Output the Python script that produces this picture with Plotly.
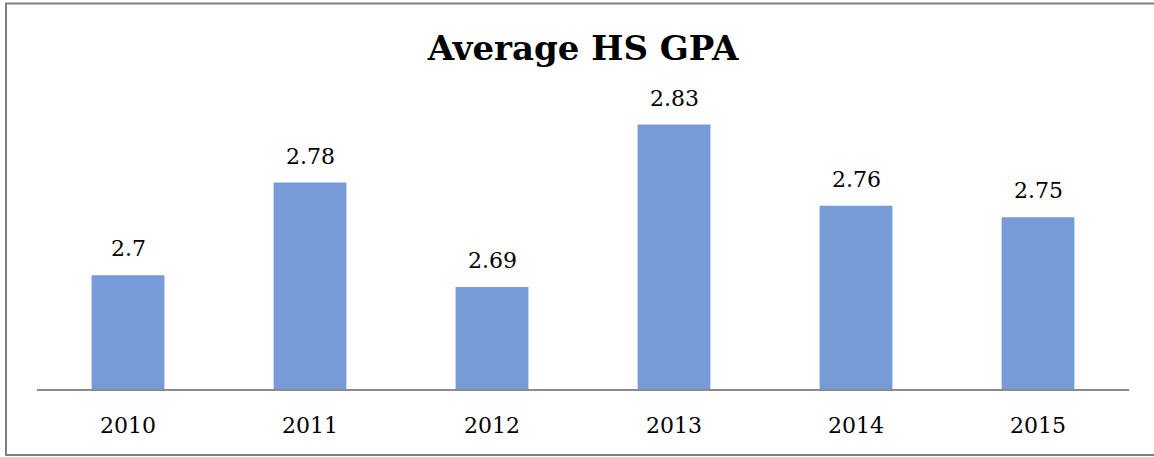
import plotly.graph_objects as go

years = ["2010", "2011", "2012", "2013", "2014", "2015"]
gpa = [2.7, 2.78, 2.69, 2.83, 2.76, 2.75]
title_text = "Average HS GPA"

W, H = 1154, 457
L, R, T, B = 37, 25, 41, 68
pw, ph = W - L - R, H - T - B

def px_x(px):
    return (px - L) / pw

def px_y(py):
    return (H - B - py) / ph

font_family = "DejaVu Serif, Liberation Serif, serif"

fig = go.Figure()
fig.add_trace(go.Bar(
    x=years, y=gpa,
    marker=dict(color="#779AD9", line=dict(width=0)),
    hoverinfo="x+y",
))

for i, v in enumerate(gpa):
    fig.add_annotation(
        x=i, y=v, text=f"{v:g}", showarrow=False,
        yanchor="bottom", yshift=12,
        font=dict(family=font_family, size=22, color="#000"),
    )

fig.add_shape(
    type="rect", xref="paper", yref="paper",
    x0=px_x(6), x1=px_x(1170), y0=px_y(455), y1=px_y(3.5),
    line=dict(color="#808080", width=2), fillcolor="rgba(0,0,0,0)", layer="above",
)

fig.update_layout(
    width=W, height=H,
    margin=dict(l=L, r=R, t=T, b=B, pad=0),
    paper_bgcolor="white", plot_bgcolor="white",
    bargap=0.6,
    showlegend=False,
    title=dict(
        text=f"<b>{title_text}</b>",
        x=0.5, xref="paper", xanchor="center",
        y=1 - 48 / H, yref="container", yanchor="middle",
        font=dict(family=font_family, size=34, color="#000"),
    ),
    xaxis=dict(
        type="category", range=[-0.5, len(years) - 0.5], autorange=False,
        showline=True, linecolor="#8c8c8c", linewidth=2,
        ticks="", showgrid=False, zeroline=False,
        tickfont=dict(family=font_family, size=22, color="#000"),
        ticklabelstandoff=16,
    ),
    yaxis=dict(
        range=[2.602, 2.902], autorange=False, visible=False, showgrid=False, zeroline=False,
    ),
)

fig.write_html("out.html", config={"displayModeBar": False},
               post_script="document.body.style.margin='0';")
